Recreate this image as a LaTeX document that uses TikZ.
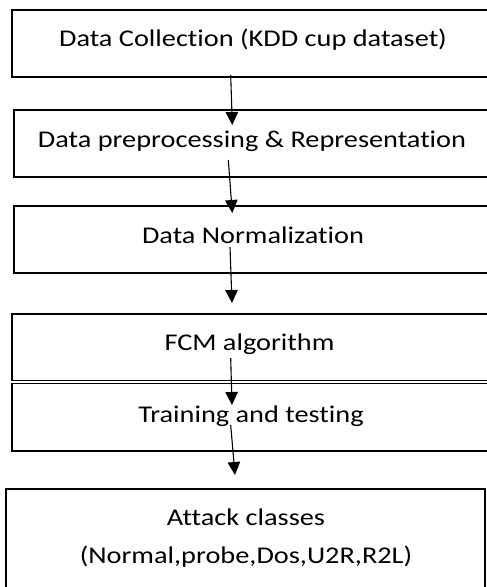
\documentclass[tikz,border=0pt]{standalone}
\usepackage{fontspec}
\setmainfont{Carlito}[Ligatures=NoCommon,FakeStretch=1.18]
\usetikzlibrary{arrows.meta}
\begin{document}
\begin{tikzpicture}[x=1pt,y=-1pt,
  box/.style={draw=black,line width=1.1pt,rectangle,inner sep=0pt,outer sep=0pt},
  lbl/.style={anchor=base,inner sep=0pt,font=\fontsize{24}{28}\selectfont},
  arr/.style={draw=black,line width=1.1pt,-{Triangle[width=12.5pt,length=13pt]}}]
\useasboundingbox (0,0) rectangle (487,587);
\clip (0,0) rectangle (487,587);
\node[box,minimum width=482pt,minimum height=67pt] (b1) at (253,43.5) {};
\node[box,minimum width=480pt,minimum height=67pt] (b2) at (254,143.5) {};
\node[box,minimum width=480pt,minimum height=67pt] (b3) at (254,239.5) {};
\node[box,minimum width=482pt,minimum height=66.5pt] (b4) at (253,347.25) {};
\node[box,minimum width=482pt,minimum height=67.5pt] (b5) at (253,417.25) {};
\node[box,minimum width=479pt,minimum height=107pt] (b6) at (245.5,542.5) {};
\node[lbl] (t1) at (253,46) {Data Collection (KDD cup dataset)};
\node[lbl] (t2) at (252,147) {Data preprocessing \& Representation};
\node[lbl] (t3) at (253,243) {Data Normalization};
\node[lbl] (t4) at (249.5,350) {FCM algorithm};
\node[lbl] (t5) at (251,422) {Training and testing};
\node[lbl] (t6) at (246,525) {Attack classes};
\node[lbl] (t7) at (246,563) {(Normal,probe,Dos,U2R,R2L)};
\coordinate (a1s) at (230.7,75);
\coordinate (a1e) at (232.3,125);
\coordinate (a2s) at (228.3,160);
\coordinate (a2e) at (232.3,213);
\coordinate (a3s) at (230,247);
\coordinate (a3e) at (232,303);
\coordinate (a4s) at (230.7,358);
\coordinate (a4e) at (232,405);
\coordinate (a5s) at (230.7,425);
\coordinate (a5e) at (235,475);
\draw[arr] (a1s) -- (a1e);
\draw[arr] (a2s) -- (a2e);
\draw[arr] (a3s) -- (a3e);
\draw[arr] (a4s) -- (a4e);
\draw[arr] (a5s) -- (a5e);
\end{tikzpicture}
\end{document}
